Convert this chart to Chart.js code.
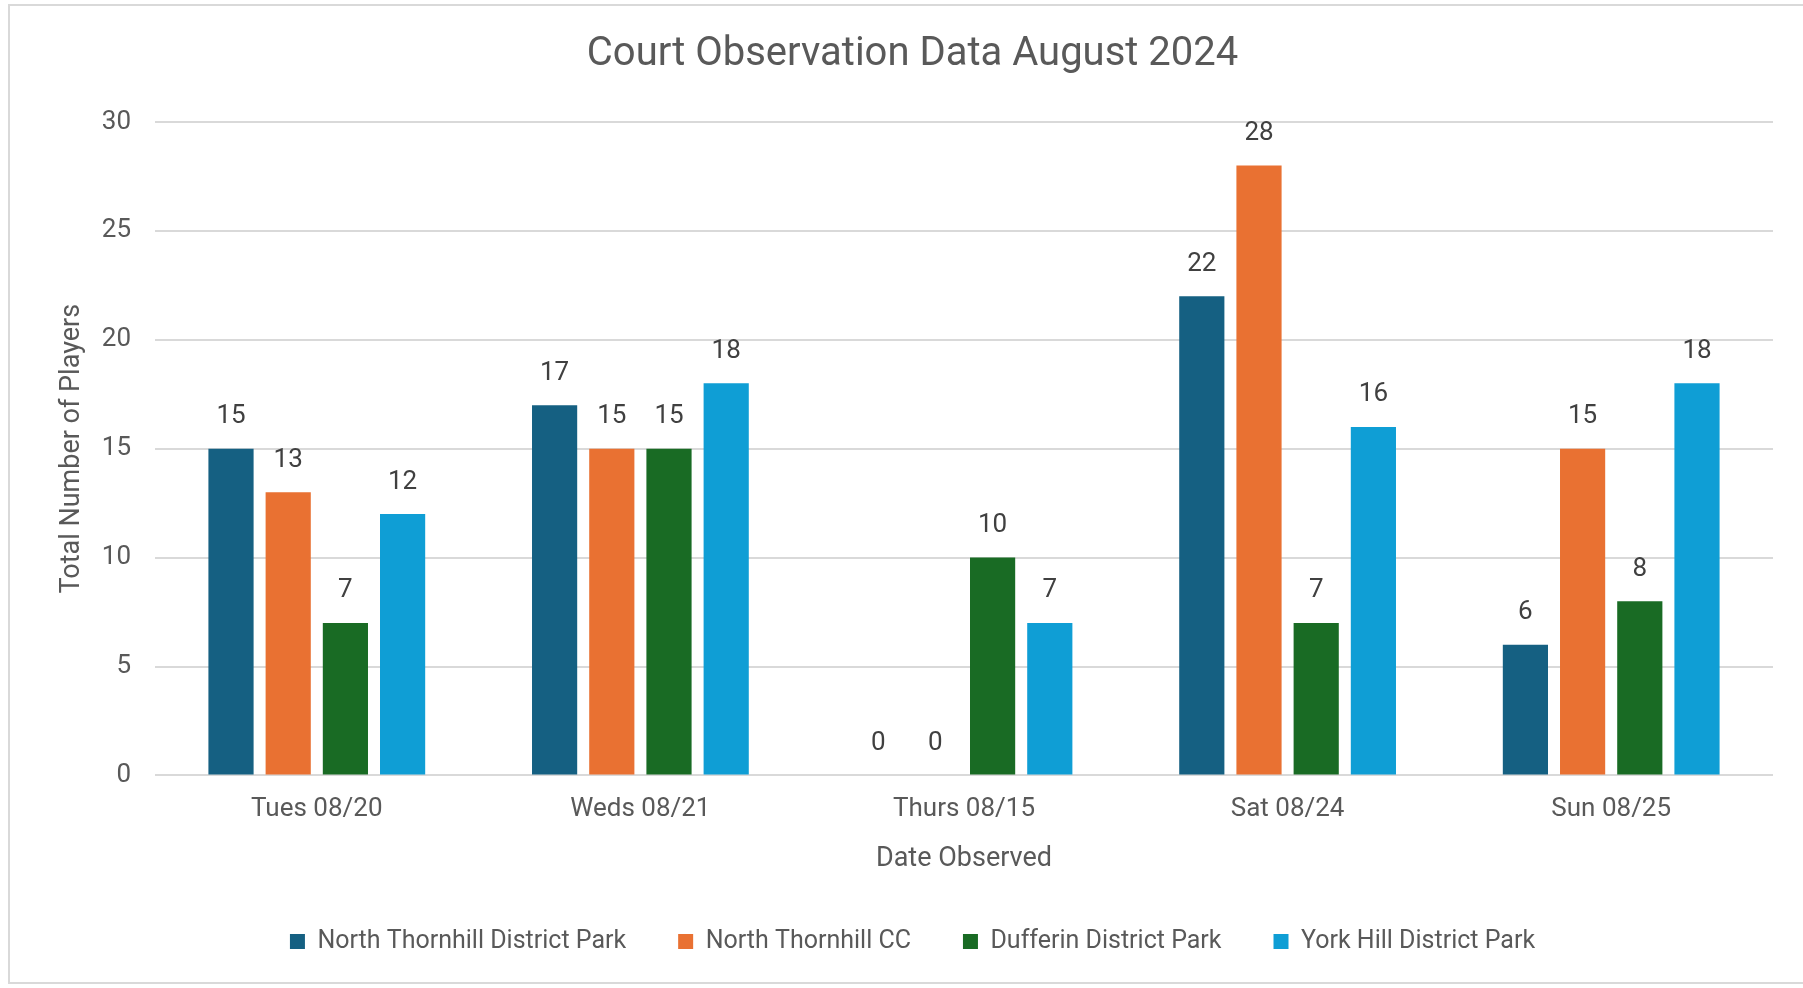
<!DOCTYPE html>
<html>
<head>
<meta charset="utf-8">
<script src="https://cdn.jsdelivr.net/npm/chart.js@4.4.1/dist/chart.umd.min.js"></script>
<style>
  html, body { margin: 0; padding: 0; background: #fff; }
  #frame {
    position: absolute; left: 8px; top: 4px; width: 1810px; height: 980px;
    border: 2px solid #d9d9d9; box-sizing: border-box;
  }
  #courtChart { position: absolute; left: 0; top: 0; }
</style>
</head>
<body>
<div id="frame"></div>
<canvas id="courtChart" width="1803" height="988"></canvas>
<script>
// court observation data
const days = ["Tues 08/20", "Weds 08/21", "Thurs 08/15", "Sat 08/24", "Sun 08/25"];
const northThornhillPark = [15, 17, 0, 22, 6];
const northThornhillCC = [13, 15, 0, 28, 15];
const dufferinPark = [7, 15, 10, 7, 8];
const yorkHillPark = [12, 18, 7, 16, 18];
const yTicks = [0, 5, 10, 15, 20, 25, 30];

const textColor = "#595959";
const fontName = "Roboto, 'Liberation Sans', sans-serif";

// value labels above each bar (no datalabels plugin offline)
const valueLabels = {
    id: "valueLabels",
    afterDatasetsDraw(chart) {
        const ctx = chart.ctx;
        ctx.save();
        ctx.font = "26px " + fontName;
        ctx.fillStyle = "#404040";
        ctx.textAlign = "center";
        ctx.textBaseline = "middle";
        chart.data.datasets.forEach((ds, i) => {
            chart.getDatasetMeta(i).data.forEach((bar, j) => {
                ctx.fillText(ds.data[j], bar.x, bar.y - 32);
            });
        });
        ctx.restore();
    }
};

let ctx = document.getElementById("courtChart").getContext("2d");

var data = {
    labels: days,
    datasets: [
        { label: "North Thornhill District Park", data: northThornhillPark, backgroundColor: "#156082" },
        { label: "North Thornhill CC", data: northThornhillCC, backgroundColor: "#E97132" },
        { label: "Dufferin District Park", data: dufferinPark, backgroundColor: "#196B24" },
        { label: "York Hill District Park", data: yorkHillPark, backgroundColor: "#0F9ED5" }
    ]
};

var options = {
    responsive: false,
    animation: false,
    categoryPercentage: 0.707,
    barPercentage: 0.79,
    layout: { padding: { left: 52, right: 30, top: 0, bottom: 24 } },
    plugins: {
        title: {
            display: true,
            text: "Court Observation Data August 2024",
            color: textColor,
            font: { family: fontName, size: 40, weight: "normal" },
            padding: { top: 31, bottom: 43 }
        },
        legend: {
            position: "bottom",
            labels: {
                color: textColor,
                font: { family: fontName, size: 25 },
                boxWidth: 15,
                boxHeight: 15,
                padding: 52
            }
        },
        tooltip: { enabled: false }
    },
    scales: {
        x: {
            grid: { display: false, drawTicks: false },
            border: { display: false },
            ticks: { color: textColor, font: { family: fontName, size: 26 }, padding: 18 },
            title: {
                display: true,
                text: "Date Observed",
                color: textColor,
                font: { family: fontName, size: 27 },
                padding: { top: 0, bottom: 2 }
            }
        },
        y: {
            min: 0,
            max: 30,
            afterBuildTicks: (scale) => { scale.ticks = yTicks.map(v => ({ value: v })); },
            afterFit: (scale) => { scale.width = 103; },
            grid: { color: "#d9d9d9", lineWidth: 2, drawTicks: false },
            border: { display: false },
            ticks: { color: textColor, font: { family: fontName, size: 26 }, padding: 24 },
            title: {
                display: true,
                text: "Total Number of Players",
                color: textColor,
                font: { family: fontName, size: 27 },
                padding: { top: 4, bottom: 4 }
            }
        }
    }
};

let courtChart = new Chart(ctx, {
    type: "bar",
    data: data,
    options: options,
    plugins: [valueLabels]
});
</script>
</body>
</html>
